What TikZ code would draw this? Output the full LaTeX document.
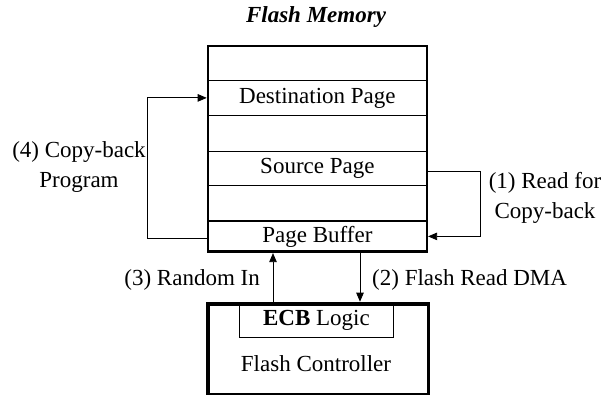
\documentclass[tikz,border=0pt]{standalone}
\usepackage{fontspec}
\setmainfont{Liberation Serif}
\usetikzlibrary{arrows.meta}
\begin{document}
\begin{tikzpicture}[x=1pt,y=-1pt,
  font=\fontsize{23}{30}\selectfont,
  row/.style={draw,line width=0.8pt,rectangle,anchor=north west,inner sep=0pt,
    minimum width=218pt,minimum height=#1},
  link/.style={line width=0.8pt,-{Triangle[length=9pt,width=7.5pt]}},
  heavy/.style={line width=2.6pt},
  lbl/.style={inner sep=0pt,align=center}]
\useasboundingbox (0,0) rectangle (611,395);

% title
\node[lbl,font=\fontsize{23}{30}\selectfont\bfseries\itshape] (title) at (316,17) {Flash Memory};

% flash memory pages
\node[row=34pt] (r1)   at (208,46)  {};
\node[row=35pt] (dest) at (208,80)  {Destination Page};
\node[row=36pt] (r3)   at (208,115) {};
\node[row=34pt] (src)  at (208,151) {Source Page};
\node[row=36pt] (r5)   at (208,185) {};
\node[row=30pt] (buf)  at (208,221) {Page Buffer};
\draw[heavy] (r1.north west) rectangle (buf.south east);
\draw[heavy] (buf.north west) -- (buf.north east);

% flash controller with ECB logic
\node[draw,heavy,rectangle,anchor=north west,inner sep=0pt,minimum width=219pt,minimum height=90pt] (ctrl) at (207.5,303) {};
\node[row=34pt,minimum width=154pt,inner sep=0pt] (ecb) at (239,303) {\textbf{ECB} Logic};
\node[lbl] (fc) at (316,364) {Flash Controller};
\draw[heavy] (ctrl.north west) rectangle (ctrl.south east);

% data paths
\coordinate (upx) at (273,0);
\coordinate (dnx) at (360,0);
\coordinate (lx) at (147,0);
\coordinate (rx) at (480,0);
\draw[link,shorten >=1.3pt] (ctrl.north -| upx) -- (buf.south -| upx);
\draw[link,shorten <=1.3pt,shorten >=1.3pt] (buf.south -| dnx) -- (ctrl.north -| dnx);
\draw[link,shorten <=1.3pt,shorten >=1.3pt] ([yshift=-2pt]buf.west) -| (lx |- dest.west) -- (dest.west);
\draw[link,shorten <=1.3pt,shorten >=1.3pt] ([yshift=-3pt]src.east) -| (rx |- buf.east) -- (buf.east);

% labels
\node[lbl] (l4) at (79,167) {(4) Copy-back\\Program};
\node[lbl] (l1) at (545,198) {(1) Read for\\Copy-back};
\node[lbl,anchor=east] (l3) at (260,280) {(3) Random In};
\node[lbl,anchor=west] (l2) at (372,280) {(2) Flash Read DMA};
\end{tikzpicture}
\end{document}
